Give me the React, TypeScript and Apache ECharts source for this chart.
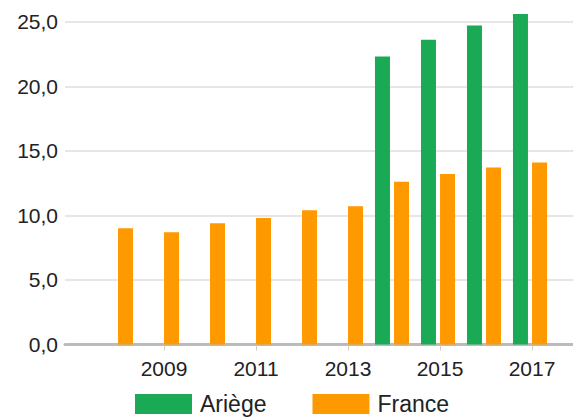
import React, { useEffect, useRef } from "react";
import * as echarts from "echarts";

const years = [2008, 2009, 2010, 2011, 2012, 2013, 2014, 2015, 2016, 2017];
const ariege = [null, null, null, null, null, null, 22.3, 23.6, 24.7, 25.6];
const france = [9.0, 8.7, 9.4, 9.8, 10.4, 10.7, 12.6, 13.2, 13.7, 14.1];
const yearLabels = [2009, 2011, 2013, 2015, 2017];
const yTicks = [0, 5, 10, 15, 20, 25];

export default function App() {
  const ref = useRef<HTMLDivElement>(null);
  useEffect(() => {
    if (!ref.current) return;
    const chart = echarts.init(ref.current, null, { renderer: "svg" });
    const shift = 2 / 46;
    chart.setOption({
      animation: false,
      textStyle: { fontFamily: "Liberation Sans, Arial, sans-serif" },
      grid: { left: 65, right: 0, top: 21.7, bottom: 420 - 344.5, containLabel: false },
      legend: {
        left: 130,
        top: 387.5,
        itemWidth: 57,
        itemHeight: 20,
        itemGap: 46,
        icon: "rect",
        textStyle: { fontSize: 23, color: "#222", padding: [0, 0, 0, 3] },
        data: ["Ariège", "France"],
      },
      xAxis: {
        type: "value",
        min: 2008 - 51 / 46,
        max: 2017 + 43 / 46,
        splitLine: { show: false },
        axisLine: { show: true, onZero: false, lineStyle: { color: "#bbbbbb", width: 3 } },
        axisTick: {
          show: true,
          length: 6,
          lineStyle: { color: "#cccccc", width: 1 },
          customValues: yearLabels.map((y) => y + shift),
        },
        axisLabel: {
          fontSize: 21,
          color: "#222",
          margin: 13,
          customValues: yearLabels.map((y) => y + shift),
          formatter: (v: number) => String(Math.round(v)),
        },
      },
      yAxis: {
        type: "value",
        min: 0,
        max: 25,
        interval: 5,
        axisLine: { show: false },
        axisTick: { show: false },
        splitLine: { show: true, lineStyle: { color: "#e6e6e6", width: 2 } },
        axisLabel: {
          fontSize: 21,
          color: "#222",
          margin: 7,
          customValues: yTicks,
          formatter: (v: number) => v.toFixed(1).replace(".", ","),
        },
      },
      series: [
        {
          name: "Ariège",
          type: "bar",
          barWidth: 15,
          barGap: "27%",
          clip: false,
          itemStyle: { color: "#1aaa55" },
          data: years.map((y, i) => [y, ariege[i]]),
        },
        {
          name: "France",
          type: "bar",
          barWidth: 15,
          barGap: "27%",
          clip: false,
          itemStyle: { color: "#ff9900" },
          data: years.map((y, i) => [y, france[i]]),
        },
      ],
    });
    return () => chart.dispose();
  }, []);
  return (
    <div
      ref={ref}
      style={{ position: "fixed", left: 0, top: 0, width: 573, height: 420, background: "#fff" }}
    />
  );
}
